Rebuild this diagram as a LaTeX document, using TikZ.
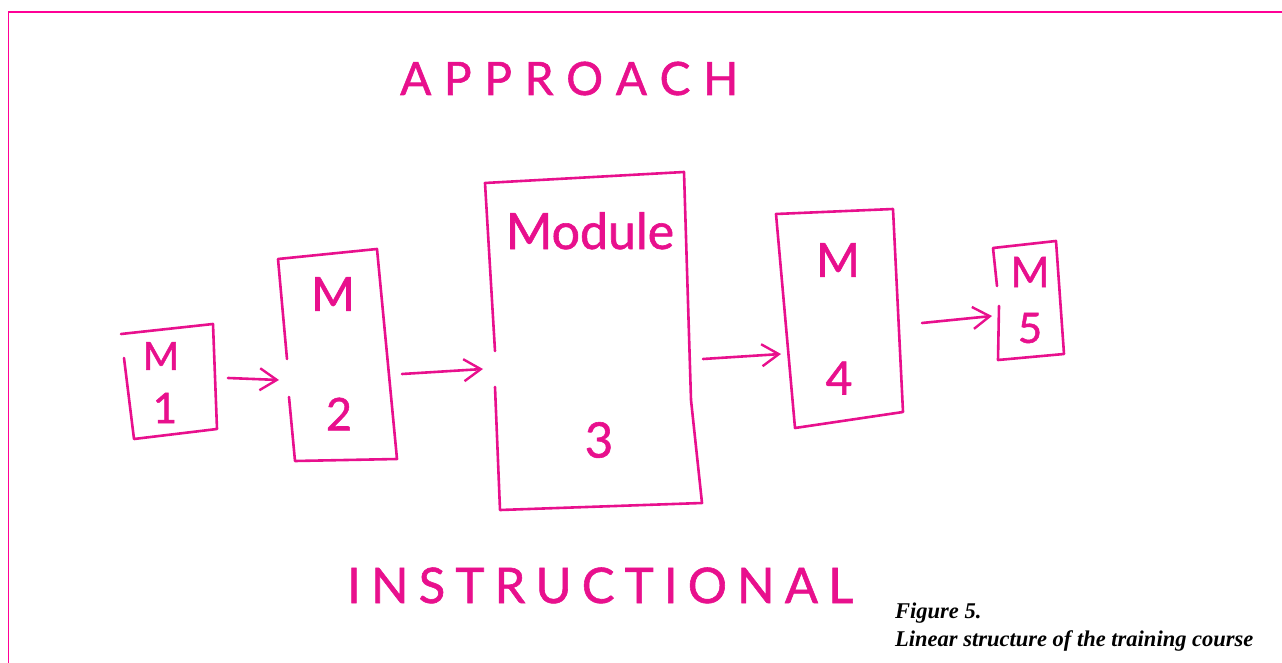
\documentclass[tikz,border=0pt]{standalone}
\usepackage{fontspec}
\setmainfont{Liberation Serif}
\newfontfamily\hand{Lato}[FakeBold=1.2]
\usetikzlibrary{arrows.meta}
\definecolor{ink}{RGB}{232,16,141}
\definecolor{rule}{RGB}{255,0,150}
\tikzset{
  sketch/.style={draw=ink, line width=2.6pt, line join=round, line cap=round},
  flow/.style={sketch, -{Straight Barb[length=17pt,width=22pt,line width=2.4pt]}},
  lbl/.style={text=ink, inner sep=0pt, font=\hand},
  caption/.style={inner sep=0pt, anchor=base west, font=\fontsize{22.5}{24}\selectfont\bfseries\itshape}
}
\begin{document}
\begin{tikzpicture}[x=1pt,y=-1pt]
\useasboundingbox (0,0) rectangle (1282,663);
% outer frame (top and left rules)
\draw[rule, line width=1.6pt] (8.3,663) -- (8.3,12.3) -- (1282,12.3);

% spaced-out headings, letters spread evenly over a fixed width
\node[lbl, anchor=base west, font=\hand\fontsize{46}{46}\selectfont] (approach) at (400,95)
  {\hbox to 338pt{A\hfill P\hfill P\hfill R\hfill O\hfill A\hfill C\hfill H}};
\node[lbl, anchor=base west, font=\hand\fontsize{49}{49}\selectfont] (instructional) at (347,603)
  {\hbox to 506pt{I\hfill N\hfill S\hfill T\hfill R\hfill U\hfill C\hfill T\hfill I\hfill O\hfill N\hfill A\hfill L}};

% module boxes (left edges left open where the flow enters)
\draw[sketch] (121,334) -- (213,324) -- (217,429) -- (134,439) -- (124,358);
\draw[sketch] (287,359) -- (278,259) -- (377,249) -- (397,459) -- (295,461) -- (289,397);
\draw[sketch] (495,351) -- (485,183) -- (684,172) -- (691,400) -- (702,503) -- (500,510) -- (495,387);
\draw[sketch] (776,214) -- (893,209) -- (903,412) -- (795,428) -- cycle;
\draw[sketch] (997,286) -- (993,248) -- (1056,241) -- (1064,354) -- (998,360) -- (999,306);

% box labels
\node[lbl, font=\hand\fontsize{39}{39}\selectfont] (m1) at (161,356) {M};
\node[lbl, font=\hand\fontsize{42}{42}\selectfont] (n1) at (165,408) {1};
\node[lbl, font=\hand\fontsize{47}{47}\selectfont] (m2) at (333,294) {M};
\node[lbl, font=\hand\fontsize{45}{45}\selectfont] (n2) at (339,414) {2};
\node[lbl, anchor=base, font=\hand\fontsize{50}{50}\selectfont] (m3) at (590,249) {Module};
\node[lbl, font=\hand\fontsize{49}{49}\selectfont] (n3) at (599,440) {3};
\node[lbl, font=\hand\fontsize{47}{47}\selectfont] (m4) at (838,260) {M};
\node[lbl, font=\hand\fontsize{46}{46}\selectfont] (n4) at (839,378) {4};
\node[lbl, font=\hand\fontsize{42}{42}\selectfont] (m5) at (1030,272) {M};
\node[lbl, font=\hand\fontsize{42}{42}\selectfont] (n5) at (1030,328) {5};

% flow arrows between modules
\coordinate (o1) at (228,378); \coordinate (i2) at (279,380);
\coordinate (o2) at (402,374); \coordinate (i3) at (483,369);
\coordinate (o3) at (703,359); \coordinate (i4) at (781,354);
\coordinate (o4) at (922,323); \coordinate (i5) at (992,316);
\draw[flow] (o1) -- (i2);
\draw[flow] (o2) -- (i3);
\draw[flow] (o3) -- (i4);
\draw[flow] (o4) -- (i5);

% caption
\node[caption] (cap1) at (895,618) {Figure 5.};
\node[caption] (cap2) at (895,646) {Linear structure of the training course};
\end{tikzpicture}
\end{document}
